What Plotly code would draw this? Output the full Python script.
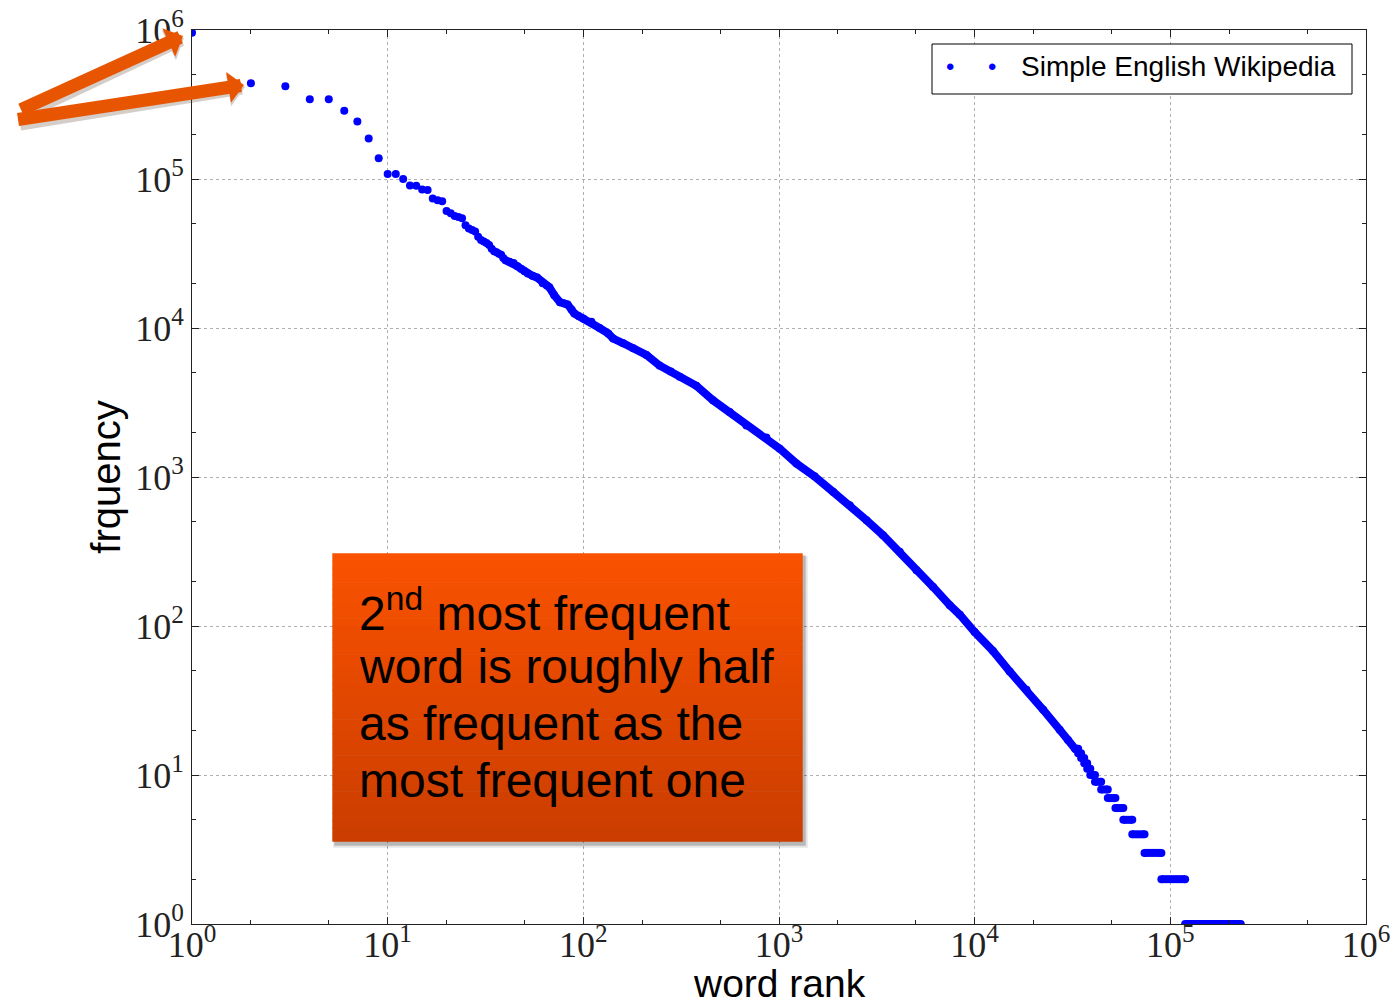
import plotly.graph_objects as go

# ---------------- data ----------------
# head of the rank/frequency curve (individual words)
head_rank = [1, 2, 3, 4, 5, 6, 7, 8, 9, 10, 11, 12, 13, 14, 15, 16, 17, 18, 19, 20,
             21, 22, 23, 24, 25, 26, 27, 28, 29, 30, 31, 32, 33, 34, 35, 36, 37, 38, 39]
head_freq = [960000, 440000, 420000, 343000, 343000, 287000, 243000, 187000, 138000, 108000,
             108000, 100000, 90500, 90000, 85000, 84500, 74000, 72000, 71000, 61000,
             59000, 56500, 55500, 54500, 49000, 46500, 45500, 44500, 41000, 39000,
             38000, 37200, 36000, 34000, 32700, 32200, 31500, 31000, 29500]

# dense body of the curve (points merge into a thick band)
body_rank = [40, 42, 44, 46, 48, 50, 52, 55, 58, 62, 65, 67, 71, 76, 80, 83, 87, 90, 95, 100,
             110, 121, 134, 142, 160, 180, 210, 245, 280, 311, 378, 460, 560, 681, 862,
             1008, 1228, 1520, 1890, 2300, 2800, 3400, 4140, 5040, 6130, 7460, 8400,
             10000, 12400, 15100, 18400, 22400, 27200, 30000]
body_freq = [28500, 27800, 27300, 26000, 25000, 24000, 23200, 22400, 21800, 20000, 19300, 18800,
             16600, 14900, 14600, 14400, 13300, 12500, 12000, 11600,
             11000, 10000, 9200, 8500, 7900, 7300, 6600, 5600, 5100, 4700, 4100, 3270, 2730,
             2220, 1840, 1550, 1230, 1010, 795, 647, 513, 407, 315, 237, 183, 138, 119,
             91, 68, 49.5, 37.3, 27.4, 20.1, 17.2]

# tail: words sharing the same small integer frequency form flat runs
plateau_freq = [15, 14, 13, 12, 11, 10, 9, 8, 7, 6, 5, 4, 3, 2, 1]
plateau_start = [32600, 33800, 35000, 36300, 37600, 39000, 41200, 44300, 47900, 52400,
                 57500, 63900, 73800, 90000, 119000]
plateau_end = [33800, 35000, 36300, 37600, 39000, 41200, 44300, 47900, 52400, 57500,
               63900, 73800, 90000, 119000, 229000]

series_name = "Simple English Wikipedia"
x_title = "word rank"
y_title = "frquency"
tick_vals = [1, 10, 100, 1000, 10000, 100000, 1000000]
tick_text = ["10<sup>%d</sup>" % i for i in range(7)]
note_lines = ["2<sup>nd</sup> most frequent", "word is roughly half",
              "as frequent as the", "most frequent one"]

# ---------------- figure ----------------
W, H = 1390, 1007
L, R, T, B = 192, 1366, 30, 924


def fx(p):
    return (p - L) / (R - L)


def fy(p):
    return (B - p) / (B - T)


BLUE = "#0000FF"

# build tail line with gaps between plateaus
tail_x, tail_y = list(body_rank), list(body_freq)
for f, s, e in zip(plateau_freq, plateau_start, plateau_end):
    tail_x += [s, e, None]
    tail_y += [f, f, None]

fig = go.Figure()
fig.add_trace(go.Scatter(x=tail_x, y=tail_y, mode="lines+markers",
                         line=dict(color=BLUE, width=8),
                         marker=dict(color=BLUE, size=8, line=dict(width=0)),
                         showlegend=False, name=series_name))
fig.add_trace(go.Scatter(x=head_rank, y=head_freq, mode="markers",
                         marker=dict(color=BLUE, size=8, line=dict(width=0)),
                         showlegend=False, name=series_name))

tickfont = dict(family="Liberation Serif", size=36, color="#222222")
axis_common = dict(type="log", range=[0, 6], tickvals=tick_vals, ticktext=tick_text,
                   tickfont=tickfont, showline=True, linecolor="#222222", linewidth=1,
                   mirror="allticks", ticks="inside", ticklen=7, tickcolor="#222222",
                   showgrid=True, gridcolor="#b0b0b0", griddash="dot", gridwidth=1,
                   zeroline=False, automargin=False, ticklabeloverflow="allow",
                   minor=dict(ticks="inside", ticklen=4, tickcolor="#222222", showgrid=False))

fig.update_layout(
    width=W, height=H,
    margin=dict(l=L, r=W - R, t=T, b=H - B),
    paper_bgcolor="white", plot_bgcolor="white",
    xaxis=dict(**axis_common, ticklabelstandoff=-11),
    yaxis=dict(**axis_common,
               title=dict(text=y_title, standoff=2,
                          font=dict(family="Liberation Sans", size=40, color="black"))),
    showlegend=False,
)

shapes = []
# legend box
shapes.append(dict(type="rect", xref="paper", yref="paper",
                   x0=fx(932), x1=fx(1352), y0=fy(94), y1=fy(44),
                   line=dict(color="black", width=1), fillcolor="white", layer="above"))

# callout box: shadow + vertical gradient
bx0, bx1, by0, by1 = 332.3, 802.7, 553.3, 841.7
shapes.append(dict(type="rect", xref="paper", yref="paper",
                   x0=fx(bx0 + 1), x1=fx(bx1 + 5), y0=fy(by1 + 6), y1=fy(by0 + 3),
                   line=dict(width=0), fillcolor="rgba(0,0,0,0.10)", layer="above"))
shapes.append(dict(type="rect", xref="paper", yref="paper",
                   x0=fx(bx0 + 2), x1=fx(bx1 + 3), y0=fy(by1 + 4), y1=fy(by0 + 2),
                   line=dict(width=0), fillcolor="rgba(0,0,0,0.20)", layer="above"))
n = 40
top_c = (250, 82, 0)
bot_c = (202, 61, 0)
hh = (by1 - by0) / n
for i in range(n):
    t = (i + 0.5) / n
    c = tuple(int(round(top_c[k] + (bot_c[k] - top_c[k]) * t)) for k in range(3))
    y0 = by0 + i * hh
    y1 = min(by1, y0 + hh + 0.6)
    shapes.append(dict(type="rect", xref="paper", yref="paper",
                       x0=fx(bx0), x1=fx(bx1), y0=fy(y1), y1=fy(y0),
                       line=dict(width=0), fillcolor="rgb(%d,%d,%d)" % c, layer="above"))
fig.update_layout(shapes=shapes)

ann = []
# x-axis title (placed like the reference, just above the bottom edge)
ann.append(dict(xref="paper", yref="paper", x=0.5, y=fy(984), text=x_title,
                showarrow=False, xanchor="center", yanchor="middle", borderpad=0,
                font=dict(family="Liberation Sans", size=39, color="black")))

# legend contents
for xp in (950, 992):
    ann.append(dict(xref="paper", yref="paper", x=fx(xp), y=fy(66), text="•",
                    showarrow=False, xanchor="center", yanchor="middle",
                    font=dict(family="Liberation Sans", size=24, color=BLUE)))
ann.append(dict(xref="paper", yref="paper", x=fx(1019), y=fy(67), text=series_name,
                showarrow=False, xanchor="left", yanchor="middle",
                font=dict(family="Liberation Sans", size=28, color="black")))

# callout text
for line, base in zip(note_lines, [628.3, 684.0, 741.7, 798.3]):
    ann.append(dict(xref="paper", yref="paper", x=fx(357), y=fy(base - 18), text=line,
                    showarrow=False, xanchor="left", yanchor="middle",
                    font=dict(family="Liberation Sans", size=48, color="black")))

# arrows pointing at the two top words
ARROW = "#E85500"
for tipx, tipy, tailx, taily in [(183, 36, 18, 111), (244, 85, 15, 120)]:
    ann.append(dict(xref="paper", yref="paper", x=fx(tipx + 1), y=fy(tipy + 2),
                    ax=tailx - tipx + 1, ay=taily - tipy + 2, text=" ",
                    showarrow=True, arrowhead=1, arrowwidth=14, arrowsize=0.4,
                    arrowcolor="rgba(90,60,40,0.25)", standoff=0))
    ann.append(dict(xref="paper", yref="paper", x=fx(tipx), y=fy(tipy),
                    ax=tailx - tipx, ay=taily - tipy, text=" ",
                    showarrow=True, arrowhead=1, arrowwidth=13, arrowsize=0.4,
                    arrowcolor=ARROW, standoff=0))
fig.update_layout(annotations=ann)

fig.write_html("out.html")
